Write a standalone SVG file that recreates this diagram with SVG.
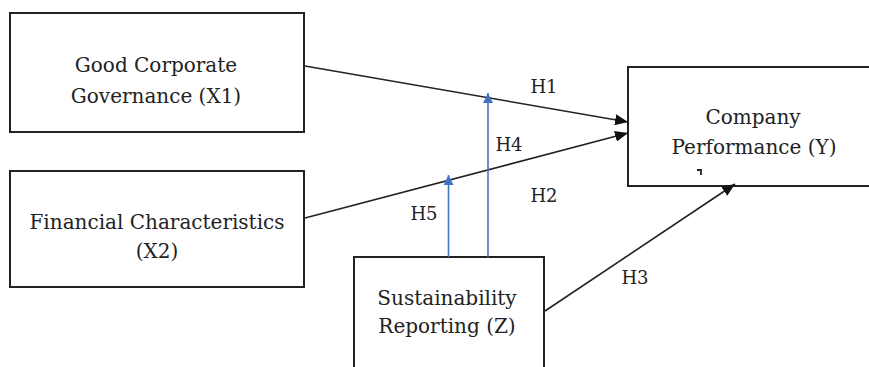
<svg xmlns="http://www.w3.org/2000/svg" width="869" height="367" viewBox="0 0 869 367">
<defs>
<style>
.box{fill:#fff;stroke:#222;stroke-width:2}
.t{font-family:"DejaVu Serif","Liberation Serif",serif;font-size:20px;fill:#222;text-anchor:middle}
.lbl{font-family:"DejaVu Serif","Liberation Serif",serif;font-size:18px;fill:#222;text-anchor:middle}
.blk{stroke:#222;stroke-width:1.6;fill:none}
.blu{stroke:#4472C4;stroke-width:1.6;fill:none}
</style>
<marker id="ab" markerWidth="13" markerHeight="11" refX="13" refY="5.5" orient="auto" markerUnits="userSpaceOnUse"><path d="M0,0 L13,5.5 L0,11 Z" fill="#111"/></marker>
<marker id="au" markerWidth="10" markerHeight="10" refX="10" refY="5" orient="auto" markerUnits="userSpaceOnUse"><path d="M0,0 L10,5 L0,10 Z" fill="#4472C4"/></marker>
</defs>
<rect width="869" height="367" fill="#fff"/>
<g id="x1">
<rect class="box" x="10" y="13" width="294" height="119"/>
<text class="t" x="156" y="72">Good Corporate</text>
<text class="t" x="156" y="103">Governance (X1)</text>
</g>
<g id="x2">
<rect class="box" x="10" y="171" width="294" height="116"/>
<text class="t" x="157" y="229">Financial Characteristics</text>
<text class="t" x="157" y="258">(X2)</text>
</g>
<g id="y">
<rect class="box" x="628" y="67" width="260" height="119"/>
<text class="t" x="753" y="124">Company</text>
<text class="t" x="754" y="154">Performance (Y)</text>
<path d="M697 170 H701 V175" stroke="#222" stroke-width="1.8" fill="none"/>
</g>
<g id="z">
<rect class="box" x="354" y="257" width="190" height="130"/>
<text class="t" x="447" y="305">Sustainability</text>
<text class="t" x="447" y="333">Reporting (Z)</text>
</g>
<g id="connectors">
<line class="blk" x1="305" y1="66" x2="628" y2="122" marker-end="url(#ab)"/>
<line class="blk" x1="305" y1="218" x2="628" y2="133" marker-end="url(#ab)"/>
<line class="blk" x1="545" y1="311" x2="735" y2="184" marker-end="url(#ab)"/>
<line class="blu" x1="488" y1="257" x2="488" y2="93" marker-end="url(#au)"/>
<line class="blu" x1="448.5" y1="257" x2="448.5" y2="175" marker-end="url(#au)"/>
<text class="lbl" x="544" y="93">H1</text>
<text class="lbl" x="509" y="151">H4</text>
<text class="lbl" x="544" y="202">H2</text>
<text class="lbl" x="424" y="220">H5</text>
<text class="lbl" x="635" y="284">H3</text>
</g>
</svg>
